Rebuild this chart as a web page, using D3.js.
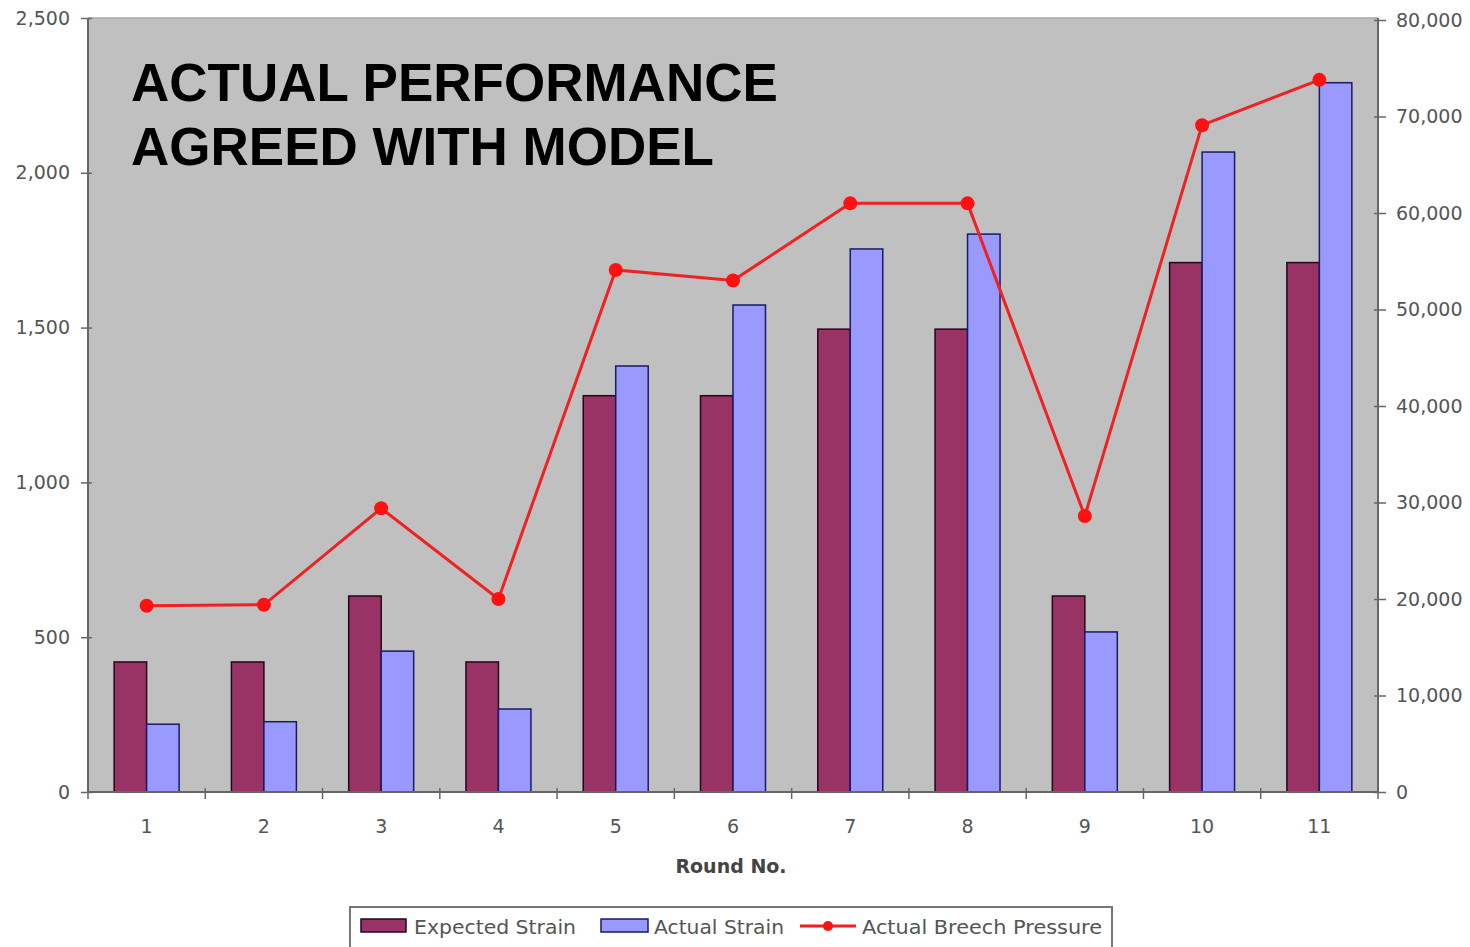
<!DOCTYPE html>
<html>
<head>
<meta charset="utf-8">
<script src="https://cdn.jsdelivr.net/npm/d3@7"></script>
<style>
  html, body { margin: 0; padding: 0; background: #fff; }
  svg { display: block; }
</style>
</head>
<body>
<svg id="chart" width="1470" height="947"></svg>
<script>
const rounds = ["1","2","3","4","5","6","7","8","9","10","11"];
const expectedStrain = [420, 420, 633, 420, 1280, 1280, 1495, 1495, 633, 1710, 1710];
const actualStrain = [219, 227, 455, 268, 1376, 1573, 1754, 1802, 517, 2067, 2291];
const breechPressure = [19300, 19400, 29400, 20000, 54100, 53000, 61000, 61000, 28600, 69100, 73800];
const leftTicks = [0, 500, 1000, 1500, 2000, 2500];
const rightTicks = [0, 10000, 20000, 30000, 40000, 50000, 60000, 70000, 80000];
const seriesNames = ["Expected Strain", "Actual Strain", "Actual Breech Pressure"];
const titleLines = ["ACTUAL PERFORMANCE", "AGREED WITH MODEL"];
const xTitle = "Round No.";

const svg = d3.select("#chart");
const L = 88, R = 1378, T = 18, B = 792;
const fmt = d3.format(",");

const x0 = d3.scaleBand().domain(rounds).range([L, R]).paddingInner(0).paddingOuter(0);
const x1 = d3.scaleBand().domain(["exp", "act"]).range([0, x0.bandwidth()]).paddingInner(0).paddingOuter(0.805);
const yL = d3.scaleLinear().domain([0, 2500]).range([B, T]);
const yR = d3.scaleLinear().domain([0, 80000]).range([B, T + 2]);

// plot background
svg.append("rect").attr("x", L).attr("y", T).attr("width", R - L).attr("height", B - T)
  .attr("fill", "#c0c0c0");
svg.append("line").attr("x1", L).attr("x2", R).attr("y1", T).attr("y2", T)
  .attr("stroke", "#a8a8a8").attr("stroke-width", 1.5);

// bars
const colors = { exp: "#993366", act: "#9999ff" };
const strokes = { exp: "#220818", act: "#1a1a66" };
const groups = svg.append("g").selectAll("g").data(rounds).join("g")
  .attr("transform", d => `translate(${x0(d)},0)`);
groups.append("rect")
  .attr("x", x1("exp")).attr("width", x1.bandwidth())
  .attr("y", (d, i) => yL(expectedStrain[i]))
  .attr("height", (d, i) => B - yL(expectedStrain[i]))
  .attr("fill", colors.exp).attr("stroke", strokes.exp).attr("stroke-width", 1.5);
groups.append("rect")
  .attr("x", x1("act")).attr("width", x1.bandwidth())
  .attr("y", (d, i) => yL(actualStrain[i]))
  .attr("height", (d, i) => B - yL(actualStrain[i]))
  .attr("fill", colors.act).attr("stroke", strokes.act).attr("stroke-width", 1.5);

// line
const cx = d => x0(d) + x0.bandwidth() / 2;
const line = d3.line().x((d, i) => cx(rounds[i])).y(d => yR(d));
svg.append("path").datum(breechPressure).attr("d", line)
  .attr("fill", "none").attr("stroke", "#ee2222").attr("stroke-width", 3);
svg.append("g").selectAll("circle").data(breechPressure).join("circle")
  .attr("cx", (d, i) => cx(rounds[i])).attr("cy", d => yR(d)).attr("r", 7)
  .attr("fill", "#ff1111");

// axes
const axisColor = "#666";
const labelFont = "'DejaVu Sans', sans-serif";
const gL = svg.append("g").attr("transform", `translate(${L},0)`)
  .call(d3.axisLeft(yL).tickValues(leftTicks).tickFormat(fmt).tickSize(6).tickPadding(12));
gL.selectAll(".tick line").attr("x1", 4).attr("x2", -7);
const gR = svg.append("g").attr("transform", `translate(${R},0)`)
  .call(d3.axisRight(yR).tickValues(rightTicks).tickFormat(fmt).tickSize(6).tickPadding(12));
gR.selectAll(".tick line").attr("x1", -4).attr("x2", 8);
const gB = svg.append("g").attr("transform", `translate(0,${B})`)
  .call(d3.axisBottom(x0).tickSize(0).tickPadding(28));
gB.selectAll("line.cat").data(rounds.map(d => x0(d)).concat([x0.range()[1]])).join("line")
  .attr("class", "cat").attr("x1", d => d).attr("x2", d => d).attr("y1", -4).attr("y2", 7)
  .attr("stroke", axisColor).attr("stroke-width", 1.5);
[gL, gR, gB].forEach(g => {
  g.select(".domain").attr("stroke", axisColor).attr("stroke-width", 2);
  g.selectAll(".tick line").attr("stroke", axisColor).attr("stroke-width", 1.5);
  g.selectAll(".tick text").attr("fill", "#555").attr("font-family", labelFont)
    .attr("font-size", 19);
});
gL.select(".domain").attr("d", `M0,${T}V${B}`);
gR.select(".domain").attr("d", `M0,${T}V${B}`);
gB.select(".domain").attr("d", `M${L},0H${R}`);

// x title
svg.append("text").attr("x", (L + R) / 2 - 2).attr("y", 873).attr("text-anchor", "middle")
  .attr("font-family", labelFont).attr("font-weight", "bold").attr("font-size", 19)
  .attr("fill", "#444").text(xTitle);

// chart title
svg.append("g").selectAll("text").data(titleLines).join("text")
  .attr("x", 131).attr("y", (d, i) => 101 + i * 64)
  .attr("font-family", "'Liberation Sans', Arial, sans-serif").attr("font-weight", "bold")
  .attr("font-size", 53).attr("fill", "#000").text(d => d);

// legend
const lg = svg.append("g");
lg.append("rect").attr("x", 350).attr("y", 907).attr("width", 762).attr("height", 44)
  .attr("fill", "#fff").attr("stroke", "#777").attr("stroke-width", 2);
lg.append("rect").attr("x", 361).attr("y", 919).attr("width", 45).attr("height", 13)
  .attr("fill", colors.exp).attr("stroke", strokes.exp).attr("stroke-width", 1.5);
lg.append("rect").attr("x", 601).attr("y", 919).attr("width", 47).attr("height", 13)
  .attr("fill", colors.act).attr("stroke", strokes.act).attr("stroke-width", 1.5);
lg.append("line").attr("x1", 800).attr("x2", 856).attr("y1", 926).attr("y2", 926)
  .attr("stroke", "#ee2222").attr("stroke-width", 3);
lg.append("circle").attr("cx", 828).attr("cy", 926).attr("r", 5).attr("fill", "#ff1111");
const legX = [414, 654, 862];
const legW = [162, 130, 240];
lg.selectAll("text.leg").data(seriesNames).join("text").attr("class", "leg")
  .attr("x", (d, i) => legX[i]).attr("y", 934)
  .attr("font-family", labelFont).attr("font-size", 20).attr("fill", "#555")
  .attr("textLength", (d, i) => legW[i]).attr("lengthAdjust", "spacingAndGlyphs")
  .text(d => d);
</script>
</body>
</html>
